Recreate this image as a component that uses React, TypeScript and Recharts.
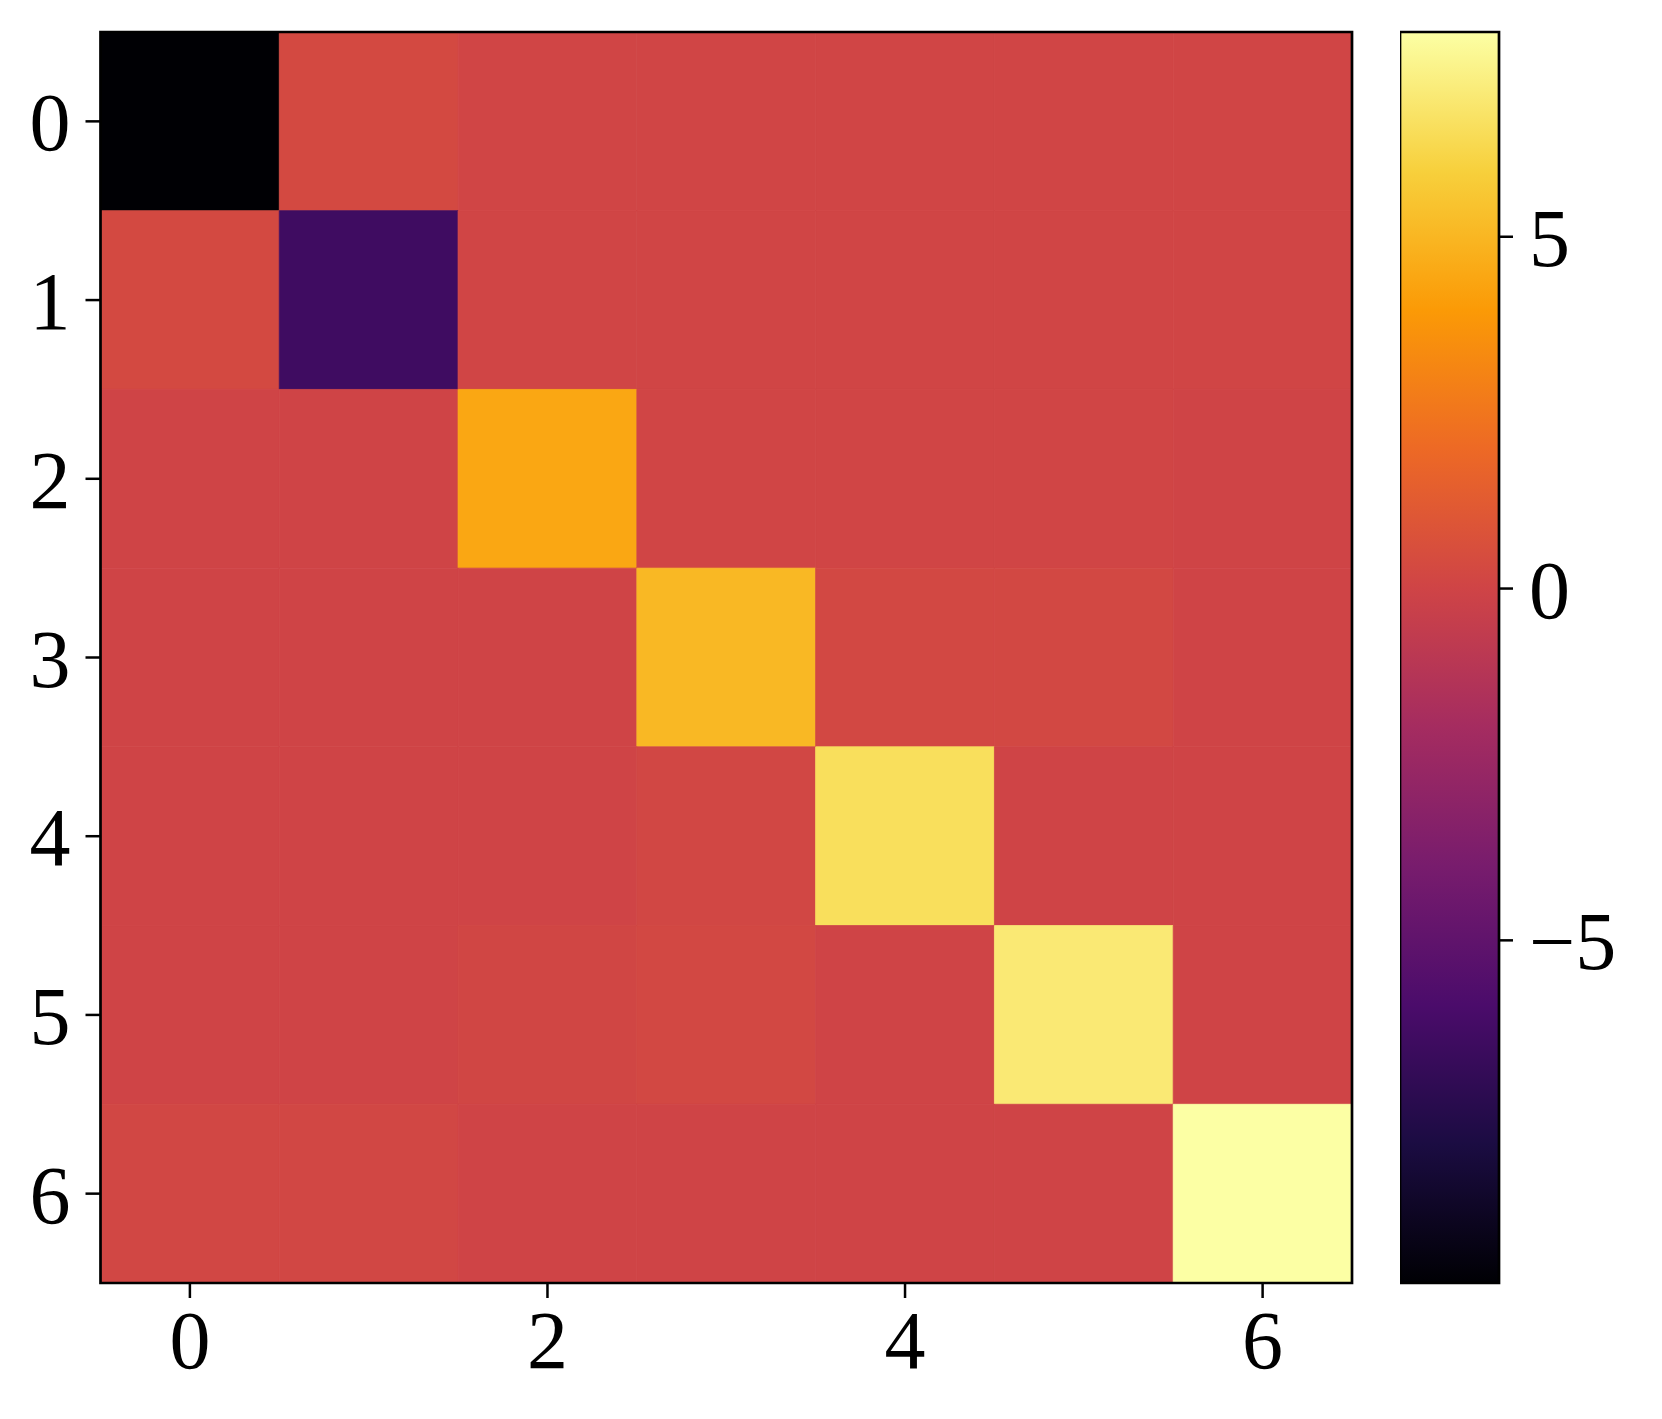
import React from 'react';
import { ComposedChart, XAxis, YAxis, ReferenceArea } from 'recharts';

// heatmap values, row by row (row 0 on top)
const rowIds = [0, 1, 2, 3, 4, 5, 6];
const colIds = [0, 1, 2, 3, 4, 5, 6];
const row0 = [-9.87, 0.3, 0.05, 0.05, 0.05, 0.05, 0.05];
const row1 = [0.3, -6.4, 0.05, 0.05, 0.05, 0.05, 0.05];
const row2 = [0.0, 0.0, 4.44, 0.05, 0.05, 0.05, 0.0];
const row3 = [0.0, 0.0, 0.0, 5.06, 0.2, 0.2, 0.0];
const row4 = [0.0, 0.0, 0.0, 0.15, 6.55, 0.0, 0.0];
const row5 = [0.0, 0.0, 0.1, 0.2, 0.0, 7.0, 0.0];
const row6 = [0.15, 0.15, 0.0, 0.0, 0.0, 0.0, 7.91];
const matrix = [row0, row1, row2, row3, row4, row5, row6];

const xTicks = [0, 2, 4, 6];
const yTicks = [0, 1, 2, 3, 4, 5, 6];
const cbarTicks = [-5, 0, 5];
const vmin = -9.87;
const vmax = 7.91;

// inferno colormap, evenly spaced stops
const INFERNO = ['#000004', '#1b0c42', '#4b0c6b', '#781c6d', '#a52c60', '#cf4446', '#ed6925', '#fb9a06', '#f7d03c', '#fcffa4'];

const hex = (h: string) => [1, 3, 5].map((i) => parseInt(h.slice(i, i + 2), 16));

const inferno = (t: number) => {
  const c = Math.min(1, Math.max(0, t)) * (INFERNO.length - 1);
  const i = Math.min(INFERNO.length - 2, Math.floor(c));
  const f = c - i;
  const a = hex(INFERNO[i]);
  const b = hex(INFERNO[i + 1]);
  const rgb = a.map((v, k) => Math.round(v + (b[k] - v) * f));
  return `rgb(${rgb.join(',')})`;
};

const colorOf = (v: number) => inferno((v - vmin) / (vmax - vmin));

const FONT = "'Liberation Serif', 'DejaVu Serif', serif";
const tickStyle = { fill: '#000', fontSize: 82, fontFamily: FONT };
const minus = (v: number) => String(v).replace('-', '\u2212');

export default function App() {
  return (
    <div style={{ position: 'absolute', left: 0, top: 0, width: 1662, height: 1419, background: '#fff' }}>
      <div style={{ position: 'absolute', left: 0, top: 0 }}>
        <ComposedChart width={1380} height={1419} margin={{ top: 32, right: 28, bottom: 56, left: 0 }}>
          <XAxis
            type="number"
            dataKey="x"
            domain={[-0.5, 6.5]}
            ticks={xTicks}
            height={80}
            axisLine={false}
            tickSize={15}
            tickMargin={12}
            tickLine={{ stroke: '#000', strokeWidth: 2.5 }}
            tick={tickStyle}
            allowDataOverflow
          />
          <YAxis
            type="number"
            dataKey="y"
            domain={[-0.5, 6.5]}
            reversed
            ticks={yTicks}
            width={100.5}
            axisLine={false}
            tickSize={15}
            tickMargin={15}
            tickLine={{ stroke: '#000', strokeWidth: 2.5 }}
            tick={tickStyle}
            allowDataOverflow
          />
          {rowIds.map((r) =>
            colIds.map((c) => (
              <ReferenceArea
                key={`cell-${r}-${c}`}
                x1={c - 0.5}
                x2={c + 0.5}
                y1={r - 0.5}
                y2={r + 0.5}
                fill={colorOf(matrix[r][c])}
                fillOpacity={1}
                stroke={colorOf(matrix[r][c])}
                strokeWidth={0.8}
              />
            ))
          )}
          <ReferenceArea
            x1={-0.5}
            x2={6.5}
            y1={-0.5}
            y2={6.5}
            fill="none"
            stroke="#000"
            strokeWidth={2.7}
            ifOverflow="visible"
          />
        </ComposedChart>
      </div>
      <div style={{ position: 'absolute', left: 1400, top: 0 }}>
        <ComposedChart width={280} height={1419} margin={{ top: 32, right: 0, bottom: 136, left: 0 }}>
          <defs>
            <linearGradient id="cbar" x1="0" y1="1" x2="0" y2="0">
              {INFERNO.map((col, i) => (
                <stop key={col} offset={`${(i / (INFERNO.length - 1)) * 100}%`} stopColor={col} />
              ))}
            </linearGradient>
          </defs>
          <XAxis
            type="number"
            dataKey="x"
            domain={[0, 1]}
            height={0}
            tick={false}
            tickLine={false}
            axisLine={false}
            allowDataOverflow
          />
          <YAxis
            type="number"
            orientation="right"
            domain={[vmin, vmax]}
            ticks={cbarTicks}
            width={181}
            axisLine={false}
            tickSize={14}
            tickMargin={16}
            tickLine={{ stroke: '#000', strokeWidth: 2.5 }}
            tick={tickStyle}
            tickFormatter={minus}
            allowDataOverflow
          />
          <ReferenceArea
            x1={0}
            x2={1}
            y1={vmin}
            y2={vmax}
            fill="url(#cbar)"
            fillOpacity={1}
            stroke="#000"
            strokeWidth={2.7}
            ifOverflow="visible"
          />
        </ComposedChart>
      </div>
    </div>
  );
}
